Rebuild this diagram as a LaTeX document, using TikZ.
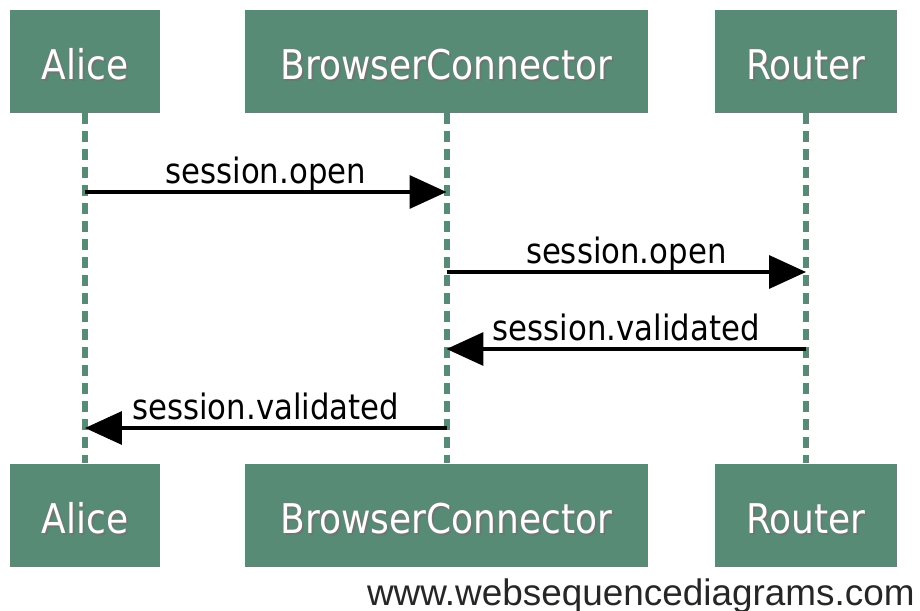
\documentclass[tikz,border=0pt]{standalone}
\usepackage{fontspec}
\usepackage{xcolor}
\usepackage{tikz}
\usetikzlibrary{
  arrows.meta,
  positioning
}
\newfontfamily\actorfont[FakeStretch=0.88]{DejaVu Sans}
\newfontfamily\webfont{Liberation Sans}
\definecolor{actorgreen}{RGB}{87, 139, 118}
\newcommand{\shadowtxt}[1]{\rlap{\kern0.04cm\raisebox{-0.04cm}{\color{black!55}#1}}#1}
\tikzset{
  actor/.style = {
    rectangle, fill=actorgreen, text=white,
    minimum width=#1, minimum height=2.06cm, inner sep=0pt,
    font=\actorfont\fontsize{23.3}{28}\selectfont,
    text height=0.74cm, text depth=0pt
  },
  actor/.default = 3cm,
  lifeline/.style = {draw=actorgreen, line width=0.12cm,
    dash pattern=on 0.22cm off 0.14cm},
  msg/.style  = {-{Triangle[length=0.74cm, width=0.66cm]}, line width=0.07cm},
  msglbl/.style = {midway, anchor=base, yshift=0.17cm, inner sep=0pt,
    font=\actorfont\fontsize{19.9}{24}\selectfont},
}

\begin{document}
\begin{tikzpicture}[x=0.02cm, y=-0.02cm]
  \useasboundingbox (0,0) rectangle (920,611);

  % actors, top row
  \node[actor=3cm]    (aliceTop)  at (85,61.5)    {\shadowtxt{Alice}};
  \node[actor=8.06cm] (bcTop)     at (446.5,61.5) {\shadowtxt{BrowserConnector}};
  \node[actor=3.64cm] (routerTop) at (806,61.5)   {\shadowtxt{Router}};

  % actors, bottom row
  \node[actor=3cm,    below=7cm of aliceTop]  (aliceBot)  {\shadowtxt{Alice}};
  \node[actor=8.06cm, below=7cm of bcTop]     (bcBot)     {\shadowtxt{BrowserConnector}};
  \node[actor=3.64cm, below=7cm of routerTop] (routerBot) {\shadowtxt{Router}};

  \draw[lifeline] (aliceTop.south)  -- (aliceBot.north);
  \draw[lifeline] (bcTop.south)     -- (bcBot.north);
  \draw[lifeline] (routerTop.south) -- (routerBot.north);

  % message rows
  \coordinate (row1) at (0,192);
  \coordinate (row2) at (0,272);
  \coordinate (row3) at (0,349);
  \coordinate (row4) at (0,428);

  \draw[msg] (aliceTop |- row1)  -- node[msglbl]{session.open} (bcTop |- row1);
  \draw[msg] (bcTop |- row2)     -- node[msglbl]{session.open} (routerTop |- row2);
  \draw[msg] (routerTop |- row3) -- node[msglbl]{session.validated} (bcTop |- row3);
  \draw[msg] (bcTop |- row4)     -- node[msglbl]{session.validated} (aliceTop |- row4);

  \node[anchor=base east, inner sep=0pt, text=black!85,
        font=\webfont\fontsize{21}{25}\selectfont] (credit) at (915,605)
        {www.websequencediagrams.com};

\end{tikzpicture}
\end{document}
